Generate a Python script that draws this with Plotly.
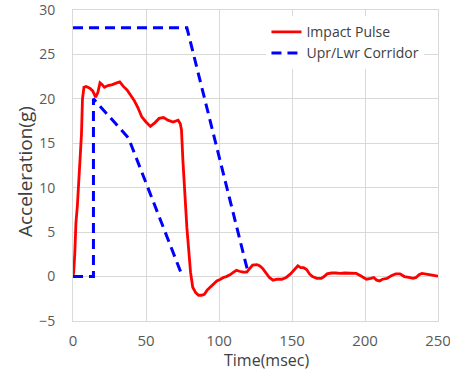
import plotly.graph_objects as go

# Impact pulse (time ms, acceleration g)
pulse_t = [0, 0.5, 1.2, 2, 3, 4, 5, 5.8, 6.5, 7.5, 9, 11.5, 13.5, 15.5, 17, 18.5, 20, 21.5, 24, 27, 30,
           32, 34.5, 37, 39.5, 42, 44.5, 47, 50, 53, 56, 59, 62, 65, 68.5, 70.5, 72, 73.5, 74.3, 75.3,
           78, 80.5, 82, 84, 86, 88, 90, 92, 94, 96, 98.5, 101, 103, 105, 107.5, 110, 112, 114, 116.5,
           119, 121, 123, 126, 128, 130, 132, 134.5, 137, 140, 143, 146, 149, 151.5, 154, 156, 158, 160,
           162, 164, 167, 170, 172, 174, 177, 180, 183, 186, 190, 194, 197, 199, 201, 204, 206, 208, 210,
           212, 215, 218, 221, 224, 227, 230, 233, 235, 237, 239, 242, 245, 248, 250]
pulse_a = [0, 0.5, 2.5, 6, 8, 10.5, 13, 16, 20, 21.3, 21.4, 21.2, 20.9, 20.2, 20.7, 21.8, 21.6, 21.3, 21.5,
           21.6, 21.8, 21.9, 21.4, 21.0, 20.4, 19.8, 19.0, 18.0, 17.4, 16.9, 17.3, 17.8, 17.9, 17.6, 17.4,
           17.5, 17.6, 17.2, 16.5, 13, 5.5, 0.5, -1.2, -1.8, -2.1, -2.1, -2.0, -1.5, -1.2, -0.8, -0.5, -0.3,
           -0.1, 0.0, 0.2, 0.5, 0.7, 0.6, 0.5, 0.5, 0.9, 1.3, 1.35, 1.2, 0.9, 0.4, -0.1, -0.4, -0.3, -0.3,
           -0.1, 0.3, 0.8, 1.2, 1.0, 1.0, 0.8, 0.3, 0.0, -0.2, -0.2, 0.0, 0.3, 0.4, 0.4, 0.35, 0.4, 0.4,
           0.35, 0.1, -0.1, -0.3, -0.2, -0.1, -0.4, -0.5, -0.3, -0.2, 0.1, 0.3, 0.3, 0.0, -0.1, -0.2, -0.1,
           0.2, 0.35, 0.3, 0.2, 0.1, 0.05]

# Corridor
upper_t = [0, 78, 120]
upper_a = [28, 28, 0.4]
lower_t = [0, 14, 14, 38, 75]
lower_a = [0, 0, 20, 15.6, 0]

x_ticks = [0, 50, 100, 150, 200, 250]
y_ticks = [-5, 0, 5, 10, 15, 20, 25, 30]

corr_t = upper_t + [None] + lower_t
corr_a = upper_a + [None] + lower_a

FONT = "Open Sans"
GRID = "#d9d9d9"

fig = go.Figure()
fig.add_trace(go.Scatter(x=pulse_t, y=pulse_a, mode="lines", name="Impact Pulse",
                         line=dict(color="#ff0000", width=2.8)))
fig.add_trace(go.Scatter(x=corr_t, y=corr_a, mode="lines", name="Upr/Lwr Corridor",
                         line=dict(color="#0000ff", width=3, dash="10px,6px")))

fig.update_layout(
    width=450, height=370,
    margin=dict(l=73, r=12, t=10, b=49),
    plot_bgcolor="white", paper_bgcolor="white",
    font=dict(family=FONT, size=14, color="#595959"),
    showlegend=True,
    legend=dict(x=0.53, y=0.98, xanchor="left", yanchor="top",
                bgcolor="white", font=dict(size=14, color="#404040"),
                itemwidth=30, tracegroupgap=4),
    xaxis=dict(range=[0, 250], tickvals=x_ticks, showgrid=True, gridcolor=GRID,
               gridwidth=1, zeroline=False, showline=True, mirror=True, linecolor=GRID,
               linewidth=1, ticks="", ticklabeloverflow="allow", automargin=False,
               ticklabelstandoff=6, tickfont=dict(size=15, color="#595959")),
    yaxis=dict(range=[-5, 30], tickvals=y_ticks, showgrid=True, gridcolor=GRID,
               gridwidth=1, zeroline=False, showline=True, mirror=True, linecolor=GRID,
               linewidth=1, ticks="", ticklabeloverflow="allow", automargin=False,
               ticklabelstandoff=14, tickfont=dict(size=14, color="#595959")),
    annotations=[
        dict(text="Time(msec)", xref="paper", yref="paper", x=0.53, y=-0.125,
             xanchor="center", yanchor="middle", showarrow=False,
             font=dict(size=16, color="#404040")),
        dict(text="Acceleration(g)", xref="paper", yref="paper", x=-0.1315, y=0.479,
             xanchor="center", yanchor="middle", showarrow=False, textangle=-90,
             font=dict(size=19, color="#404040")),
    ],
)

fig.write_html("out.html")
